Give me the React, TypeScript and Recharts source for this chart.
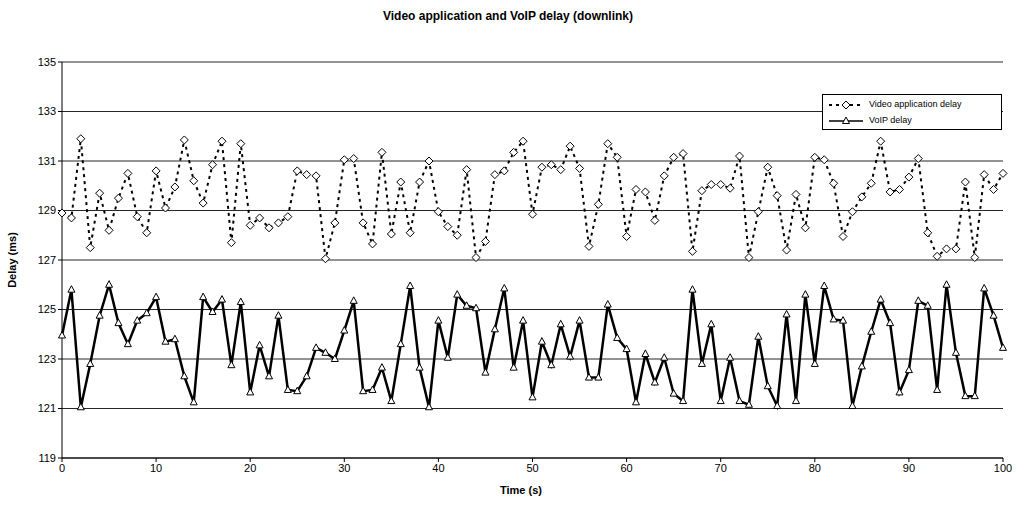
import { LineChart, Line, XAxis, YAxis, CartesianGrid } from "recharts";

const FONT = "'Liberation Sans', Arial, sans-serif";

// time axis, 0..100 s
const TIME = Array.from({ length: 101 }, (_, i) => i);

const VIDEO_DELAY = [
  128.9, 128.7, 131.9, 127.5, 129.7, 128.2, 129.5, 130.5, 128.75, 128.1,
  130.6, 129.1, 129.95, 131.85, 130.2, 129.3, 130.85, 131.8, 127.7, 131.7,
  128.4, 128.7, 128.3, 128.5, 128.75, 130.6, 130.45, 130.4, 127.05, 128.5,
  131.05, 131.1, 128.5, 127.65, 131.35, 128.05, 130.15, 128.1, 130.15, 131.0,
  128.95, 128.35, 128.0, 130.65, 127.1, 127.75, 130.45, 130.6, 131.35, 131.8,
  128.85, 130.75, 130.85, 130.65, 131.6, 130.7, 127.55, 129.25, 131.7, 131.15,
  127.95, 129.85, 129.75, 128.6, 130.4, 131.15, 131.3, 127.35, 129.8, 130.05,
  130.05, 129.9, 131.2, 127.1, 128.95, 130.75, 129.6, 127.4, 129.65, 128.3,
  131.15, 131.05, 130.1, 127.95, 128.95, 129.55, 130.1, 131.8, 129.75, 129.85,
  130.35, 131.1, 128.1, 127.15, 127.45, 127.45, 130.15, 127.1, 130.45, 129.85,
  130.5,
];

const VOIP_DELAY = [
  123.95, 125.8, 121.05, 122.8, 124.75, 126.0, 124.45, 123.6, 124.55, 124.85,
  125.5, 123.7, 123.8, 122.3, 121.25, 125.5, 124.9, 125.4, 122.75, 125.3,
  121.65, 123.55, 122.3, 124.75, 121.75, 121.7, 122.3, 123.45, 123.25, 123.0,
  124.15, 125.35, 121.7, 121.75, 122.65, 121.3, 123.6, 125.95, 122.65, 121.05,
  124.55, 123.05, 125.6, 125.15, 125.05, 122.45, 124.2, 125.85, 122.65, 124.55,
  121.45, 123.7, 122.75, 124.4, 123.1, 124.55, 122.25, 122.25, 125.2, 123.85,
  123.4, 121.25, 123.2, 122.05, 123.05, 121.6, 121.3, 125.8, 122.8, 124.4,
  121.3, 123.05, 121.3, 121.15, 123.9, 121.9, 121.1, 124.8, 121.3, 125.6,
  122.8, 125.95, 124.6, 124.55, 121.1, 122.7, 124.1, 125.4, 124.45, 121.65,
  122.55, 125.35, 125.15, 121.75, 126.0, 123.25, 121.5, 121.5, 125.85, 124.75,
  123.45,
];

const Y_TICKS = [119, 121, 123, 125, 127, 129, 131, 133, 135];
const X_TICKS = [0, 10, 20, 30, 40, 50, 60, 70, 80, 90, 100];

const data = TIME.map((t, i) => ({ t, video: VIDEO_DELAY[i], voip: VOIP_DELAY[i] }));

const Diamond = (props: any) => {
  const { cx, cy, index } = props;
  if (cx == null || cy == null) return <g key={index} />;
  return (
    <path
      key={index}
      d={`M${cx},${cy - 4} L${cx + 4},${cy} L${cx},${cy + 4} L${cx - 4},${cy} Z`}
      fill="#fff"
      stroke="#000"
      strokeWidth={1}
    />
  );
};

const Triangle = (props: any) => {
  const { cx, cy, index } = props;
  if (cx == null || cy == null) return <g key={index} />;
  return (
    <path
      key={index}
      d={`M${cx},${cy - 4} L${cx + 3.5},${cy + 2.5} L${cx - 3.5},${cy + 2.5} Z`}
      fill="#fff"
      stroke="#000"
      strokeWidth={1}
    />
  );
};

export default function App() {
  return (
    <div style={{ position: "absolute", left: 0, top: 0, width: 1016, height: 506, background: "#fff", fontFamily: FONT }}>
      <div style={{ position: "absolute", top: 9, width: 1016, textAlign: "center", fontSize: 12, fontWeight: "bold" }}>
        Video application and VoIP delay (downlink)
      </div>

      <LineChart width={1016} height={506} data={data} margin={{ top: 62, right: 13, bottom: 0, left: 0 }}>
        <CartesianGrid vertical={false} stroke="#000" strokeOpacity={0.85} />
        <XAxis
          dataKey="t"
          type="number"
          domain={[0, 100]}
          ticks={X_TICKS}
          height={48}
          stroke="#000"
          tick={{ fontSize: 11, fill: "#000", fontFamily: FONT }}
          tickSize={4}
        />
        <YAxis
          domain={[119, 135]}
          ticks={Y_TICKS}
          width={62}
          stroke="#000"
          tick={{ fontSize: 11, fill: "#000", fontFamily: FONT }}
          tickSize={4}
          interval={0}
        />
        <Line
          dataKey="video"
          stroke="#000"
          strokeWidth={2}
          strokeDasharray="3 4"
          dot={Diamond}
          isAnimationActive={false}
        />
        <Line
          dataKey="voip"
          stroke="#000"
          strokeWidth={2.5}
          dot={Triangle}
          isAnimationActive={false}
        />
      </LineChart>

      <div style={{ position: "absolute", top: 484, left: 500, fontSize: 11, fontWeight: "bold" }}>Time (s)</div>
      <div
        style={{
          position: "absolute",
          left: 12,
          top: 260,
          fontSize: 11,
          fontWeight: "bold",
          transform: "translate(-50%, -50%) rotate(-90deg)",
          whiteSpace: "nowrap",
        }}
      >
        Delay (ms)
      </div>

      {/* legend */}
      <div
        style={{
          position: "absolute",
          left: 822,
          top: 94,
          width: 180,
          height: 36,
          border: "1px solid #000",
          background: "#fff",
          boxSizing: "border-box",
          fontSize: 9,
        }}
      >
        <svg width={40} height={36} style={{ position: "absolute", left: 4, top: 0 }}>
          <line x1={2} y1={10} x2={36} y2={10} stroke="#000" strokeWidth={2} strokeDasharray="3 4" />
          <path d="M19,6 L23,10 L19,14 L15,10 Z" fill="#fff" stroke="#000" />
          <line x1={2} y1={26} x2={36} y2={26} stroke="#000" strokeWidth={1.5} />
          <path d="M19,22 L22.5,28.5 L15.5,28.5 Z" fill="#fff" stroke="#000" />
        </svg>
        <div style={{ position: "absolute", left: 46, top: 4 }}>Video application delay</div>
        <div style={{ position: "absolute", left: 46, top: 20 }}>VoIP delay</div>
      </div>
    </div>
  );
}
